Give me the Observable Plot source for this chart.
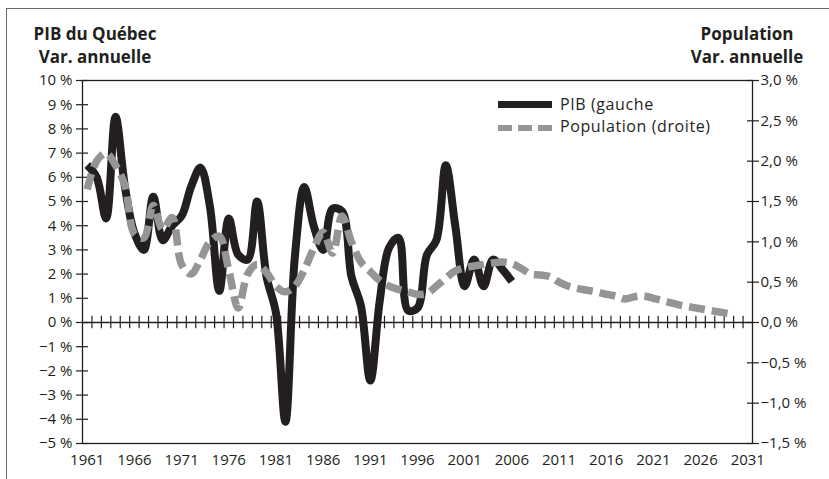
<!DOCTYPE html>
<html><head><meta charset="utf-8">
<script src="https://cdn.jsdelivr.net/npm/d3@7"></script>
<script src="https://cdn.jsdelivr.net/npm/@observablehq/plot@0.6"></script>
<style>
body{margin:0;background:#fff;}
#wrap{position:relative;width:829px;height:479px;font-family:"Open Sans",sans-serif;color:#231f20;overflow:hidden;background:#fff}
#wrap svg{position:absolute;left:0;top:0}
#frame{position:absolute;left:6px;top:8px;width:840px;height:490px;border-top:1.5px solid #6a6a6a;border-left:1.5px solid #6a6a6a;}
.title{position:absolute;font-weight:700;font-size:17px;line-height:23px;text-align:center;width:160px;z-index:2}
.leg{position:absolute;font-size:16px;line-height:20px;letter-spacing:0.6px;white-space:nowrap;z-index:2}
.sw{position:absolute;z-index:2}
</style></head>
<body>
<div id="wrap">
  <div id="frame"></div>
  <div class="title" style="left:15px;top:22px">PIB du Québec<br>Var. annuelle</div>
  <div class="title" style="left:667px;top:22px">Population<br>Var. annuelle</div>
  <div class="sw" style="left:498px;top:101px;width:54px;height:7px;background:#231f20"></div>
  <div class="leg" style="left:560px;top:94px">PIB (gauche</div>
  <div class="sw" style="left:498px;top:125px;width:14px;height:6px;background:#959595"></div>
  <div class="sw" style="left:518px;top:125px;width:14px;height:6px;background:#959595"></div>
  <div class="sw" style="left:538px;top:125px;width:14px;height:6px;background:#959595"></div>
  <div class="leg" style="left:560px;top:116px">Population (droite)</div>
</div>
<script>
// ---- data ----
const pibStart = 1961;
const pibValues = [6.5, 6.0, 4.3, 8.5, 5.6, 3.7, 3.0, 5.2, 3.4, 4.0,
  4.4, 5.6, 6.4, 4.8, 1.3, 4.3, 2.8, 2.6, 5.0, 1.9,
  0.4, -4.1, 2.7, 5.6, 4.0, 3.0, 4.7, 4.6, 1.9, 0.7,
  -2.4, 0.9, 3.1, 3.5, 0.5, 0.6, 2.8, 3.4, 6.5, 4.0,
  1.5, 2.6, 1.5, 2.6, 2.2, 1.7];
const popStart = 1961;
const popValues = [1.65, 2.0, 2.1, 1.95, 1.7, 1.1, 1.05, 1.45, 1.15, 1.3,
  0.72, 0.6, 0.78, 1.0, 1.07, 0.65, 0.18, 0.6, 0.72, 0.62,
  0.45, 0.38, 0.45, 0.65, 0.92, 1.12, 0.86, 1.32, 1.0, 0.75,
  0.63, 0.52, 0.45, 0.41, 0.38, 0.35, 0.36, 0.45, 0.55, 0.64,
  0.68, 0.70, 0.72, 0.74, 0.75, 0.73, 0.67, 0.60, 0.59, 0.57,
  0.50, 0.45, 0.42, 0.40, 0.38, 0.35, 0.33, 0.29, 0.32, 0.33,
  0.30, 0.27, 0.24, 0.21, 0.19, 0.17, 0.15, 0.13, 0.11];
const firstYear = 1961, lastYear = 2031;
const xTickLabels = [1961, 1966, 1971, 1976, 1981, 1986, 1991, 1996, 2001, 2006, 2011, 2016, 2021, 2026, 2031];
const leftTicks = [-5, -4, -3, -2, -1, 0, 1, 2, 3, 4, 5, 6, 7, 8, 9, 10];
const rightTicks = [-1.5, -1.0, -0.5, 0.0, 0.5, 1.0, 1.5, 2.0, 2.5, 3.0];
const ratio = 0.3; // right axis value = left axis value * ratio

// ---- build ----
const pib = pibValues.map((v, i) => ({year: pibStart + i, v}));
const pop = popValues.map((v, i) => ({year: popStart + i, v}));
const boundaries = d3.range(firstYear + 0.5, lastYear, 1);
const ink = "#231f20";
const fmtL = d => (d < 0 ? "\u2212" : "") + Math.abs(d) + " %";
const fmtR = d => { const r = Math.round(d * ratio * 10) / 10; return (r < 0 ? "\u2212" : "") + Math.abs(r).toFixed(1).replace(".", ",") + " %"; };

const chart = Plot.plot({
  width: 829, height: 479,
  marginLeft: 82, marginRight: 77, marginTop: 80, marginBottom: 36,
  style: {fontFamily: "'Open Sans', sans-serif", fontSize: "15px", color: ink, background: "transparent", overflow: "visible"},
  x: {type: "linear", domain: [firstYear - 0.5, lastYear + 0.5], label: null},
  y: {domain: [-5, 10], label: null},
  marks: [
    Plot.frame({stroke: ink, strokeWidth: 1.3}),
    Plot.ruleY([0], {stroke: ink, strokeWidth: 1.3}),
    Plot.ruleX(boundaries, {x: d => d, y1: -0.26, y2: 0.26, stroke: ink, strokeWidth: 1.2}),
    Plot.axisY(leftTicks, {anchor: "left", label: null, tickSize: 6, tickPadding: 4, tickFormat: fmtL, stroke: ink, strokeWidth: 1.2}),
    Plot.axisY(leftTicks, {anchor: "left", label: null, tickSize: 6, dx: 6, tickFormat: () => "", stroke: ink, strokeWidth: 1.2}),
    Plot.axisY(rightTicks.map(d => d / ratio), {anchor: "right", label: null, tickSize: 6, tickPadding: 2, tickFormat: fmtR, stroke: ink, strokeWidth: 1.2}),
    Plot.axisY(rightTicks.map(d => d / ratio), {anchor: "right", label: null, tickSize: 6, dx: -6, tickFormat: () => "", stroke: ink, strokeWidth: 1.2}),
    Plot.axisX(xTickLabels, {anchor: "bottom", label: null, tickSize: 0, tickPadding: 11, tickFormat: d => String(d)}),
    Plot.line(pib, {x: "year", y: "v", stroke: ink, strokeWidth: 8, curve: "catmull-rom", strokeLinejoin: "round", strokeLinecap: "butt"}),
    Plot.line(pop, {x: "year", y: d => d.v / ratio, stroke: "#959595", strokeWidth: 7.5, strokeDasharray: "16,7", curve: "catmull-rom", strokeLinecap: "butt"})
  ]
});
document.getElementById("wrap").appendChild(chart);
</script>
</body></html>
